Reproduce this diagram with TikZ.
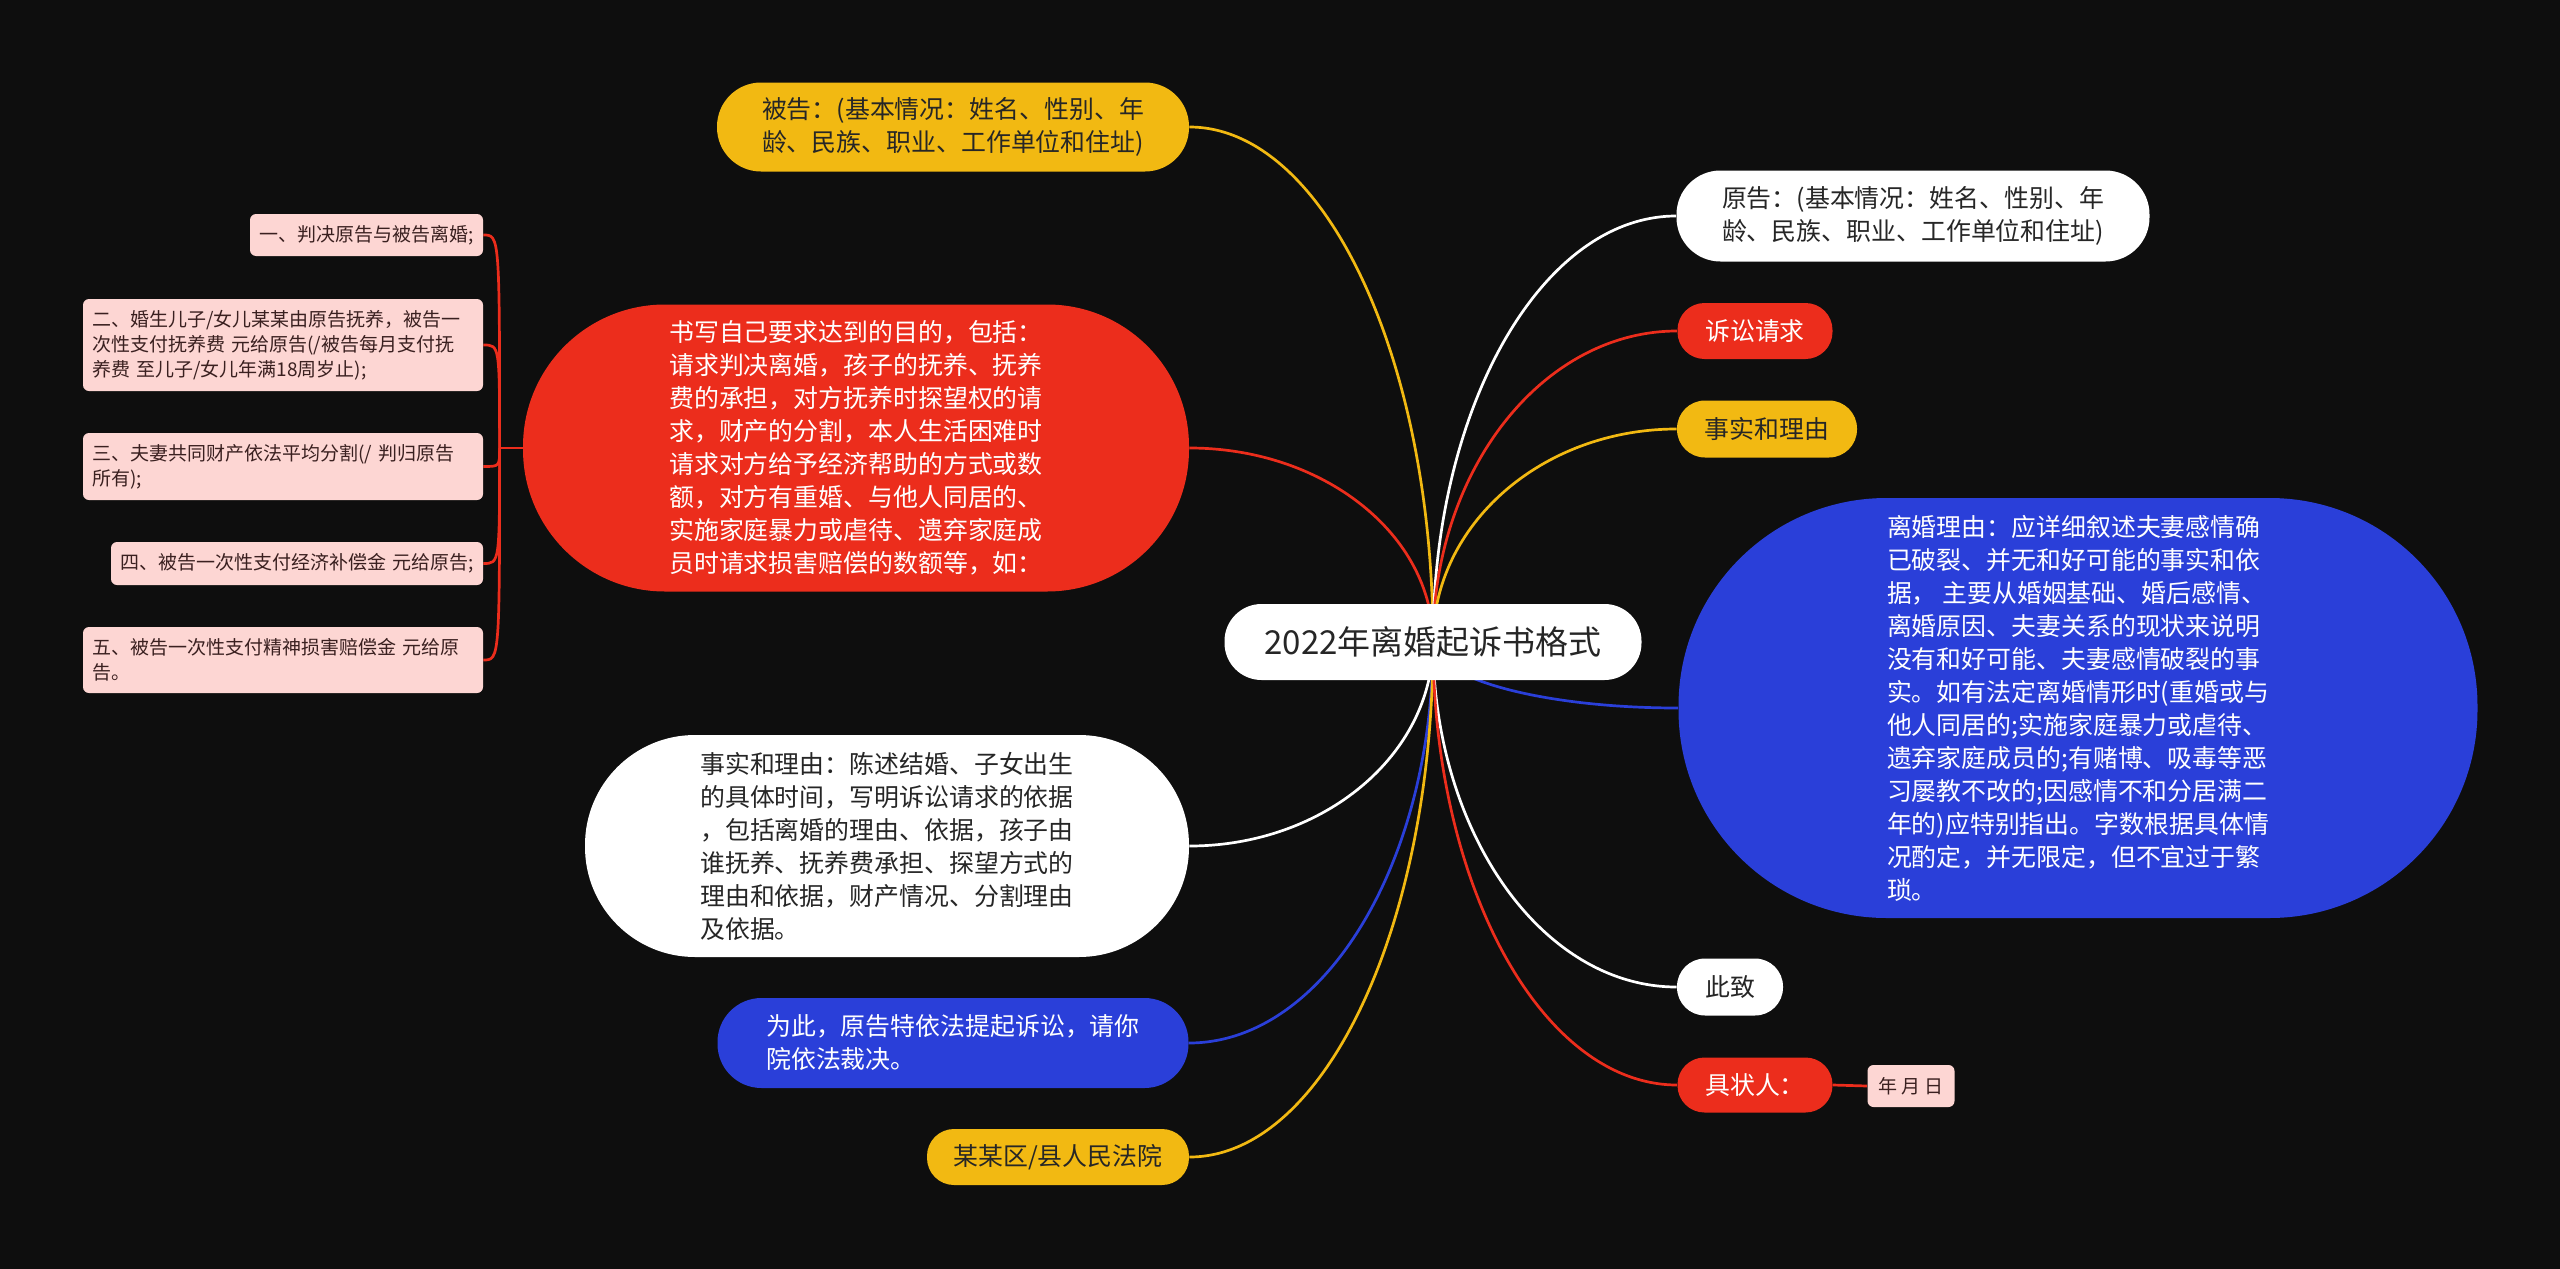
\documentclass[tikz,border=0pt]{standalone}
\usepackage{fontspec}
\setmainfont{Noto Sans CJK SC}
\usetikzlibrary{backgrounds,calc}
\definecolor{bgc}{HTML}{0E0E0E}
\definecolor{cyel}{HTML}{F2B912}
\definecolor{cred}{HTML}{EC2D1C}
\definecolor{cblue}{HTML}{2A3FD9}
\definecolor{cpink}{HTML}{FDD6D3}
\definecolor{cwhite}{HTML}{FFFFFF}
\definecolor{ctxt}{HTML}{262626}
\definecolor{cpinktxt}{HTML}{3A2020}
\tikzset{
  base/.style={inner sep=0pt, align=left, font=\fontsize{12.45pt}{16.5pt}\selectfont},
  ynode/.style={base, fill=cyel, text=ctxt},
  wnode/.style={base, fill=cwhite, text=ctxt},
  rnode/.style={base, fill=cred, text=white},
  bnode/.style={base, fill=cblue, text=white},
  pnode/.style={inner xsep=4.5pt, inner ysep=0pt, align=left, fill=cpink, text=cpinktxt, rounded corners=3pt, font=\fontsize{9.5pt}{12.5pt}\selectfont},
  conn/.style={line width=1.35pt},
}
% quarter-ellipse style link from child anchor #2 to root centre, colour #1
\newcommand\mmlink[2]{%
  \draw[conn, #1] (#2) .. controls ($(#2)!0.552!(root.center |- #2)$) and ($(root.center)!0.552!(root.center |- #2)$) .. (root.center);%
}
\begin{document}
\begin{tikzpicture}[x=0.5pt,y=-0.5pt]
\useasboundingbox (0,0) rectangle (2560,1269);

% root
\node[wnode, minimum width=208.5pt, minimum height=38pt, rounded corners=18.5pt, font=\fontsize{16.5pt}{20pt}\selectfont, text=black!85] (root) at (1433,642) {2022年离婚起诉书格式};

% right side
\node[wnode, minimum width=236.5pt, minimum height=45.5pt, rounded corners=22pt] (yuangao) at (1913,216) {原告：(基本情况：姓名、性别、年\\龄、民族、职业、工作单位和住址)};
\node[rnode, minimum width=77.5pt, minimum height=28pt, rounded corners=13.5pt] (susong) at (1755,331) {诉讼请求};
\node[ynode, minimum width=90pt, minimum height=28.5pt, rounded corners=14pt] (shishi) at (1767,429) {事实和理由};
\node[bnode, minimum width=399.5pt, minimum height=210pt, rounded corners=104pt] (liyou) at (2078,708) {离婚理由：应详细叙述夫妻感情确\\已破裂、并无和好可能的事实和依\\据， 主要从婚姻基础、婚后感情、\\离婚原因、夫妻关系的现状来说明\\没有和好可能、夫妻感情破裂的事\\实。如有法定离婚情形时(重婚或与\\他人同居的;实施家庭暴力或虐待、\\遗弃家庭成员的;有赌博、吸毒等恶\\习屡教不改的;因感情不和分居满二\\年的)应特别指出。字数根据具体情\\况酌定，并无限定，但不宜过于繁\\琐。};
\node[wnode, minimum width=53pt, minimum height=28.5pt, rounded corners=14pt] (cizhi) at (1730,987) {此致};
\node[rnode, minimum width=77.5pt, minimum height=27.5pt, rounded corners=13.5pt] (juzhuang) at (1755,1085) {具状人：};
\node[pnode, minimum width=43.5pt, minimum height=21pt, align=center, inner xsep=0pt] (riqi) at (1911,1086) {年 月 日};

% left side
\node[ynode, minimum width=236pt, minimum height=44.5pt, rounded corners=22pt] (beigao) at (953,127) {被告：(基本情况：姓名、性别、年\\龄、民族、职业、工作单位和住址)};
\node[rnode, minimum width=333pt, minimum height=143.5pt, rounded corners=71pt] (shuxie) at (856,448) {书写自己要求达到的目的，包括：\\请求判决离婚，孩子的抚养、抚养\\费的承担，对方抚养时探望权的请\\求，财产的分割，本人生活困难时\\请求对方给予经济帮助的方式或数\\额，对方有重婚、与他人同居的、\\实施家庭暴力或虐待、遗弃家庭成\\员时请求损害赔偿的数额等，如：};
\node[wnode, minimum width=302pt, minimum height=111pt, rounded corners=55pt] (shishi2) at (887,846) {事实和理由：陈述结婚、子女出生\\的具体时间，写明诉讼请求的依据\\，包括离婚的理由、依据，孩子由\\谁抚养、抚养费承担、探望方式的\\理由和依据，财产情况、分割理由\\及依据。};
\node[bnode, minimum width=235.5pt, minimum height=45pt, rounded corners=22pt] (weici) at (953,1043) {为此，原告特依法提起诉讼，请你\\院依法裁决。};
\node[ynode, minimum width=131pt, minimum height=28pt, rounded corners=13.5pt] (court) at (1058,1157) {某某区/县人民法院};

% pink boxes
\node[pnode, text width=107.5pt, minimum height=21pt] (p1) at (366.5,235) {一、判决原告与被告离婚;};
\node[pnode, text width=191pt, minimum height=46pt] (p2) at (283,345) {二、婚生儿子/女儿某某由原告抚养，被告一\\次性支付抚养费 元给原告(/被告每月支付抚\\养费 至儿子/女儿年满18周岁止);};
\node[pnode, text width=191pt, minimum height=33.5pt] (p3) at (283,466.5) {三、夫妻共同财产依法平均分割(/ 判归原告\\所有);};
\node[pnode, text width=177pt, minimum height=21.5pt] (p4) at (297,563.5) {四、被告一次性支付经济补偿金 元给原告;};
\node[pnode, text width=191pt, minimum height=33pt] (p5) at (283,660) {五、被告一次性支付精神损害赔偿金 元给原\\告。};

\coordinate (trunk) at ([xshift=-11.5pt]shuxie.west);

\begin{pgfonlayer}{background}
\fill[bgc] (0,0) rectangle (2560,1269);
% root connectors
\mmlink{cyel}{beigao.east}
\mmlink{cred}{shuxie.east}
\mmlink{cwhite}{shishi2.east}
\mmlink{cblue}{weici.east}
\mmlink{cyel}{court.east}
\mmlink{cwhite}{yuangao.west}
\mmlink{cred}{susong.west}
\mmlink{cyel}{shishi.west}
\mmlink{cblue}{liyou.west}
\mmlink{cwhite}{cizhi.west}
\mmlink{cred}{juzhuang.west}
\draw[conn, cred] (juzhuang.east) -- (riqi.west);
% pink connectors
\draw[conn, cred] (shuxie.west) -- (trunk);
\foreach \p in {p1,p2,p3,p4,p5}{
  \draw[conn, cred] (trunk) .. controls (trunk |- \p.east) .. (\p.east);
}
\end{pgfonlayer}
\end{tikzpicture}
\end{document}
